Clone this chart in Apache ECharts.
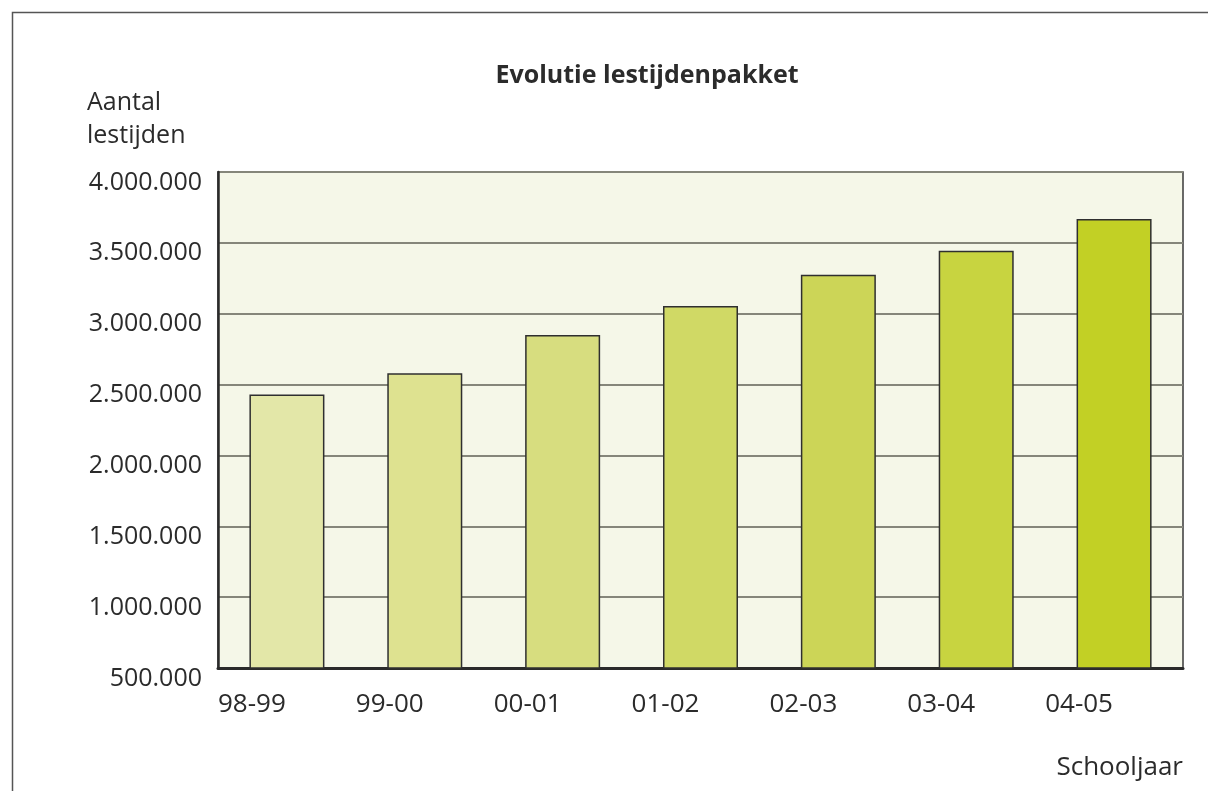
<!DOCTYPE html>
<html>
<head>
<meta charset="utf-8">
<script src="https://cdn.jsdelivr.net/npm/echarts@6/dist/echarts.min.js"></script>
<style>
  html, body { margin: 0; padding: 0; background: #ffffff; }
  #chart { width: 1208px; height: 791px; }
</style>
</head>
<body>
<div id="chart"></div>
<script>
// School years and the total number of teaching periods per year
const schoolYears = ['98-99', '99-00', '00-01', '01-02', '02-03', '03-04', '04-05'];
const lessonPeriods = [2430000, 2580000, 2850000, 3055000, 3275000, 3445000, 3668000];
const barColors = ['#e3e7a8', '#dee290', '#d7dd7f', '#d0d965', '#ccd557', '#c8d440', '#c2d025'];
const yTicks = { min: 500000, max: 4000000, step: 500000 };

const FONT = '"Open Sans", "Noto Sans", sans-serif';
const TEXT = '#2b2b2b';

function formatThousands(v) {
  return String(v).replace(/\B(?=(\d{3})+(?!\d))/g, '.');
}

const chart = echarts.init(document.getElementById('chart'));
chart.setOption({
  animation: false,
  backgroundColor: '#ffffff',
  textStyle: { fontFamily: FONT },
  title: {
    text: 'Evolutie lestijdenpakket',
    left: 642,
    top: 58,
    textAlign: 'center',
    textStyle: { fontFamily: FONT, fontSize: 25, fontWeight: 'bold', color: TEXT }
  },
  graphic: [
    { type: 'rect', left: 10, top: 10, shape: { width: 1210, height: 800 },
      style: { fill: 'none', stroke: '#555', lineWidth: 1.5 }, silent: true },
    { type: 'text', left: 87, top: 86,
      style: { text: 'Aantal\nlestijden', font: '25px ' + FONT, fill: TEXT, lineHeight: 33 } },
    { type: 'text', right: 25, top: 755,
      style: { text: 'Schooljaar', font: '26px ' + FONT, fill: TEXT } }
  ],
  grid: {
    left: 218, right: 25, top: 172, bottom: 123,
    show: true, backgroundColor: '#f5f7e8', borderColor: '#3a3a3a', borderWidth: 1.5
  },
  xAxis: [
    {
      type: 'category',
      data: schoolYears,
      boundaryGap: true,
      axisLine: { lineStyle: { color: '#2a2a2a', width: 3 } },
      axisTick: { inside: true, length: 11, lineStyle: { color: '#2a2a2a', width: 2 } },
      axisLabel: { show: false }
    },
    {
      // label-only axis: each year name starts at its category boundary
      type: 'category',
      position: 'bottom',
      data: schoolYears.concat(['']),
      boundaryGap: false,
      axisLine: { show: false },
      axisTick: { show: false },
      axisLabel: { align: 'left', margin: 24, fontSize: 26, color: TEXT, fontFamily: FONT, interval: 0 }
    }
  ],
  yAxis: {
    type: 'value',
    min: yTicks.min,
    max: yTicks.max,
    interval: yTicks.step,
    axisLine: { show: true, lineStyle: { color: '#2a2a2a', width: 2.5 } },
    axisTick: { show: false },
    axisLabel: {
      formatter: formatThousands, fontSize: 25, color: TEXT, fontFamily: FONT,
      margin: 16, verticalAlign: 'top', lineHeight: 25, padding: [-2, 0, 0, 0]
    },
    splitLine: { show: true, lineStyle: { color: '#85867a', width: 2 } }
  },
  series: [{
    type: 'bar',
    xAxisIndex: 0,
    barWidth: 75,
    data: lessonPeriods.map((v, i) => ({
      value: v,
      itemStyle: { color: barColors[i], borderColor: '#2f2f2f', borderWidth: 1.5 }
    }))
  }]
});
</script>
</body>
</html>
